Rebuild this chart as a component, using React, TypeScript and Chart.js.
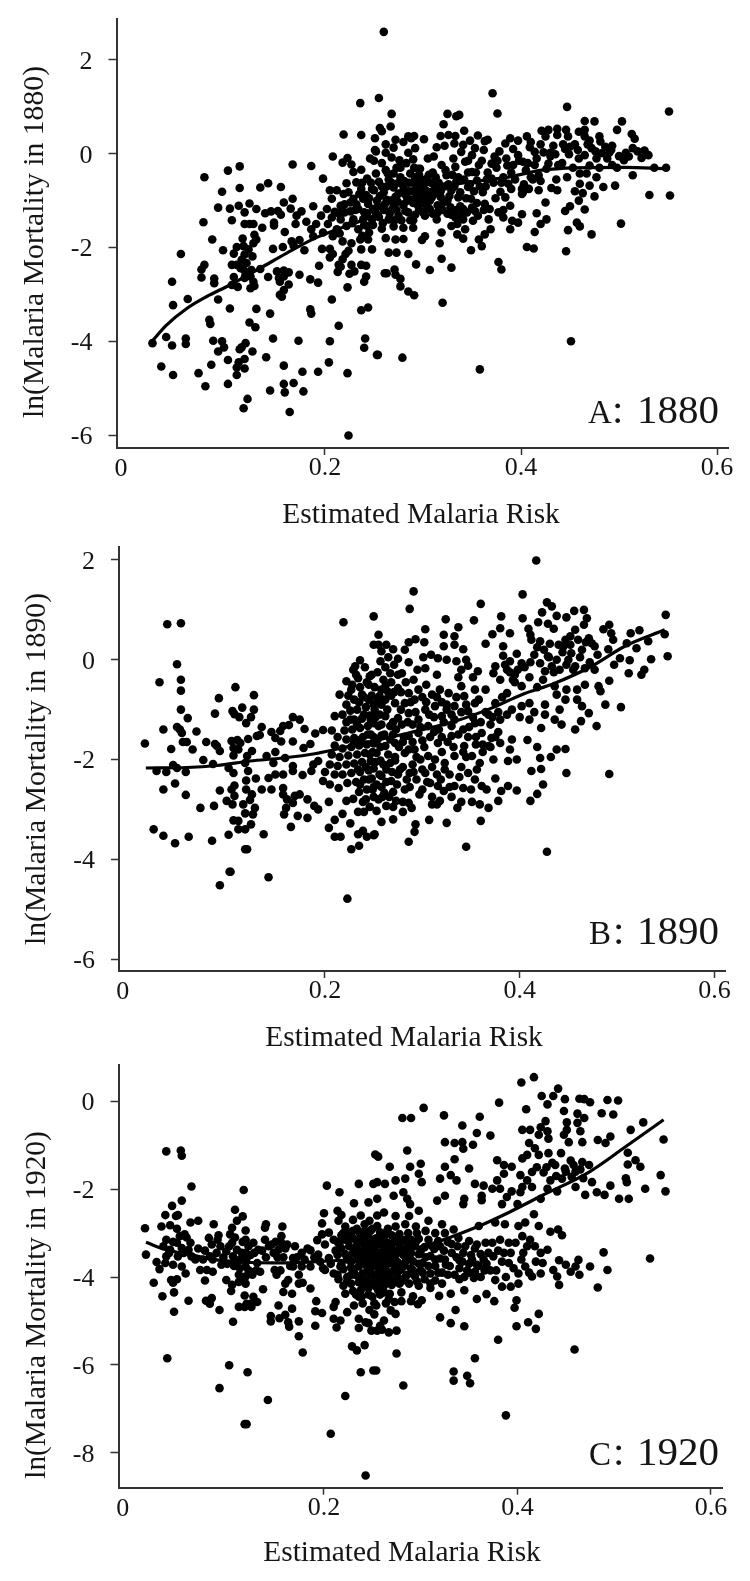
import React, { useEffect, useRef } from "react";
import { Chart, registerables } from "chart.js";

Chart.register(...registerables);

type P = [number, number];

const FONT = '"Liberation Serif", "Times New Roman", serif';
const INK = "#151515";
const xTicks = [0, 0.2, 0.4, 0.6];
const yTicks1880 = [2, 0, -2, -4, -6];
const yTicks1890 = [2, 0, -2, -4, -6];
const yTicks1920 = [0, -2, -4, -6, -8];
const xAxisTitle = "Estimated Malaria Risk";

const curve1880: P[] = [[.024,-3.99],[.038,-3.66],[.059,-3.3],[.079,-3.05],[.103,-2.8],[.134,-2.44],[.161,-2.12],[.191,-1.79],[.222,-1.54],[.251,-1.32],[.28,-1.02],[.316,-.71],[.35,-.6],[.387,-.5],[.421,-.35],[.455,-.3],[.506,-.29],[.548,-.32]];
const curve1890: P[] = [[.016,-2.17],[.058,-2.16],[.089,-2.12],[.123,-2.03],[.157,-1.97],[.191,-1.88],[.226,-1.73],[.286,-1.47],[.334,-1.23],[.371,-.97],[.402,-.7],[.436,-.47],[.474,-.13],[.508,.27],[.549,.6]];
const curve1920: P[] = [[.016,-3.21],[.037,-3.38],[.062,-3.49],[.089,-3.61],[.124,-3.67],[.158,-3.68],[.193,-3.65],[.25,-3.55],[.31,-3.25],[.356,-2.88],[.391,-2.53],[.425,-2.15],[.474,-1.61],[.512,-1.03],[.551,-.42]];

const points1880: P[] = [
[.024,-4.04],[.038,-3.91],[.044,-4.09],[.058,-3.94],[.058,-4.06],[.033,-4.54],[.045,-4.72],[.071,-4.68],[.078,-4.96],[.084,-4.5],[.101,-4.91],[.101,-4.4],[.086,-3.99],[.095,-4],[.097,-4.13],[.091,-4.22],[.113,-4.17],[.119,-4.04],[.115,-4.13],[.126,-4.22],[.118,-4.38],[.112,-4.45],[.11,-4.56],[.118,-4.58],[.11,-4.72],[.121,-5.23],[.117,-5.43],[.14,-4.34],[.144,-5.05],[.158,-4.52],[.158,-4.91],[.159,-5.09],[.168,-4.89],[.177,-4.65],[.178,-5.07],[.164,-5.51],[.193,-4.65],[.204,-4.45],[.223,-4.68],[.224,-6.01],[.173,-3.99],[.147,-3.94],[.205,-4],[.214,-3.67],[.241,-3.94],[.24,-4.14],[.253,-4.29],
[.053,-2.14],[.044,-2.73],[.045,-3.23],[.06,-3.1],[.077,-.5],[.101,-.36],[.113,-.27],[.113,-.73],[.095,-.81],[.091,-1.15],[.103,-1.17],[.112,-1.11],[.105,-1.42],[.076,-1.46],[.085,-1.83],[.096,-2.06],[.077,-2.37],[.074,-2.47],[.074,-2.64],[.087,-2.66],[.087,-2.76],[.091,-3.11],[.103,-3.3],[.082,-3.54],[.083,-3.63],[.123,-3.6],[.129,-3.7],[.13,-3.31],[.144,-3.41],[.134,-.72],[.142,-.63],[.155,-.71],[.167,-.23],[.186,-.26],[.198,-.53],[.167,-.96],[.158,-1.04],[.123,-1.06],[.13,-1.18],[.118,-1.25],[.139,-1.27],[.145,-1.23],[.152,-1.22],[.155,-1.3],[.148,-1.47],[.148,-1.53],[.136,-1.58],[.127,-1.5],[.123,-1.5],[.118,-1.5],[.159,-1.67],[.165,-1.17],[.176,-1.23],[.171,-1.32],[.188,-1.12],[.196,-1.32],[.17,-1.5],[.181,-1.45],[.191,-1.5],[.186,-1.61],[.188,-1.76],[.174,-1.84],[.166,-1.87],[.168,-1.96],[.157,-1.99],[.147,-2.03],[.179,-2.06],[.197,-2.03],[.194,-2.39],[.174,-2.58],[.185,-2.68],[.193,-2.75],[.185,-3.32],[.186,-3.41],[.207,-3.11],[.223,-2.85],[.237,-3.34],[.244,-3.28],
[.116,-1.81],[.11,-1.99],[.107,-2.13],[.117,-1.97],[.122,-2.04],[.118,-2.15],[.115,-2.26],[.11,-2.37],[.105,-2.37],[.12,-2.33],[.126,-2.19],[.13,-1.83],[.127,-1.91],[.128,-1.73],[.125,-2.48],[.134,-2.46],[.117,-2.47],[.114,-2.44],[.119,-2.58],[.124,-2.62],[.127,-2.73],[.124,-2.87],[.128,-2.82],[.107,-2.63],[.111,-2.84],[.105,-2.8],[.118,-2.65],[.142,-2.63],[.151,-2.51],[.158,-2.49],[.163,-2.53],[.153,-2.65],[.158,-2.62],[.154,-2.73],[.163,-2.79],[.158,-2.91],[.154,-3.01],[.156,-3.05],
[.208,-.06],[.219,.41],[.237,.4],[.236,1.08],[.218,-.19],[.223,-.09],[.227,-.23],[.229,-.39],[.237,-.34],[.222,-.63],[.232,-.61],[.243,-.53],[.246,-.1],[.251,.08],[.248,-.75],[.237,-.75],[.205,-.78],[.212,-.78],[.219,-.86],[.207,-.96],[.229,-.96],[.239,-.96],[.216,-1.11],[.226,-1.04],[.202,-1.18],[.22,-1.25],[.234,-1.18],[.244,-1.07],[.249,-1.18],[.207,-1.36],[.216,-1.4],[.229,-1.4],[.239,-1.4],[.248,-1.4],[.203,-1.5],[.212,-1.61],[.222,-1.54],[.234,-1.61],[.243,-1.54],[.198,-1.68],[.208,-1.76],[.218,-1.87],[.227,-1.91],[.236,-1.83],[.244,-1.83],[.205,-2.03],[.208,-2.14],[.205,-2.21],[.224,-2.07],[.221,-2.14],[.237,-2.04],[.248,-2.04],[.214,-2.37],[.216,-2.41],[.213,-2.52],[.227,-2.37],[.237,-2.37],[.242,-2.39],[.225,-2.56],[.23,-2.51],[.242,-2.62],[.24,-2.73],[.218,-2.25],[.231,-1.2],[.21,-1.24],[.215,-1.7],[.24,-1.25],[.245,-1.68],[.226,-1.23],[.238,-1.75],[.242,-.88],
[.251,.33],[.258,.48],[.256,.55],[.267,.58],[.268,.85],[.255,1.19],[.26,2.6],[.262,.2],[.272,.3],[.252,.05],[.262,.02],[.27,.13],[.28,.25],[.288,.33],[.291,.38],[.25,-.15],[.258,-.2],[.268,-.08],[.276,-.14],[.285,.02],[.292,.12],[.252,-.42],[.262,-.35],[.273,-.3],[.283,-.2],[.29,-.12],[.255,-.6],[.265,-.55],[.277,-.5],[.287,-.42],[.295,-.32],[.25,-.78],[.26,-.82],[.27,-.72],[.28,-.7],[.29,-.62],[.298,-.55],[.253,-1],[.263,-.98],[.272,-.92],[.283,-.9],[.293,-.84],[.302,-.78],[.25,-1.18],[.26,-1.2],[.27,-1.12],[.28,-1.1],[.29,-1.05],[.3,-1],[.255,-1.35],[.265,-1.4],[.275,-1.32],[.285,-1.25],[.296,-1.2],[.258,-1.6],[.27,-1.55],[.28,-1.58],[.29,-1.42],[.262,-1.8],[.272,-1.83],[.28,-1.82],[.263,-2.55],[.272,-2.58],[.265,-2.11],[.273,-2.11],[.285,-2.14],[.293,-2.36],[.307,-2.48],[.319,-2.24],[.329,-2.43],[.32,-3.18],[.261,-2.55],[.271,-2.47],[.277,-2.67],[.277,-2.83],[.285,-2.94],[.291,-3.02],[.254,-4.29],[.279,-4.35],[.358,-4.6],[.451,-4],
[.301,.31],[.285,.37],[.321,.63],[.326,.4],[.333,.38],[.342,.49],[.356,.39],[.363,.27],[.389,.33],[.397,.28],[.406,.37],[.314,.14],[.322,.17],[.341,.19],[.353,.12],[.362,.08],[.384,.22],[.409,.14],[.311,-.06],[.331,-.1],[.339,.04],[.35,-.03],[.373,-.06],[.385,-.1],[.397,-.03],[.319,-.24],[.333,-.28],[.343,-.17],[.357,-.24],[.37,-.21],[.392,-.24],[.402,-.17],[.297,-.32],[.324,-.46],[.35,-.39],[.37,-.53],[.382,-.5],[.387,-.64],[.304,-.53],[.334,-.6],[.355,-.57],[.292,-.5],[.312,-.71],[.329,-.78],[.346,-.71],[.361,-.82],[.379,-.81],[.384,-.93],[.402,-.82],[.299,-.89],[.309,-.93],[.321,-1.04],[.336,-.93],[.349,-.96],[.389,-1.11],[.401,-.86],[.295,-1.11],[.307,-1.18],[.328,-1.14],[.341,-1.18],[.353,-1.22],[.363,-1.07],[.377,-1.25],[.382,-1.36],[.391,-1.43],[.401,-1.29],[.397,-1.47],[.389,-1.61],[.302,-1.32],[.314,-1.4],[.333,-1.36],[.341,-1.4],[.351,-1.43],[.367,-1.4],[.29,-1.58],[.302,-1.76],[.299,-1.84],[.319,-1.68],[.317,-1.91],[.329,-1.54],[.335,-1.72],[.343,-1.61],[.341,-1.81],[.369,-1.61],[.363,-1.72],[.357,-1.83],[.36,-1.97],[.349,-2.06],[.377,-2.31],[.38,-2.47],[.371,1.29],[.376,.86],[.325,.85],[.334,.8],[.337,.83],
[.447,1],[.551,.9],[.465,.7],[.475,.69],[.503,.69],[.498,.51],[.421,.49],[.428,.51],[.425,.37],[.437,.53],[.437,.4],[.446,.51],[.448,.37],[.459,.47],[.465,.51],[.465,.37],[.48,.37],[.481,.26],[.486,.15],[.493,.17],[.513,.42],[.516,.32],[.514,.12],[.51,-.06],[.523,-.09],[.53,-.03],[.505,-.14],[.414,.04],[.423,.03],[.433,.17],[.435,-.01],[.449,-.01],[.459,-.1],[.465,-.03],[.472,.12],[.482,.01],[.414,-.24],[.428,-.21],[.438,-.24],[.447,-.5],[.418,-.46],[.467,-.42],[.477,-.5],[.493,-.24],[.536,-.3],[.548,-.3],[.514,-.46],[.531,-.88],[.552,-.89],[.496,-.68],[.484,-.71],[.47,-.68],[.46,-.64],[.455,-.8],[.463,-.84],[.475,-.91],[.437,-.78],[.431,-.73],[.418,-.78],[.408,-.75],[.401,-.75],[.425,-1.04],[.416,-1.27],[.445,-1.22],[.45,-1.12],[.459,-1],[.465,-1.19],[.426,-1.4],[.42,-1.5],[.414,-1.67],[.448,-1.63],[.457,-1.47],[.46,-1.55],[.472,-1.72],[.502,-1.49],[.446,-2.08],[.406,-1.99],[.413,-2.02],
[.31,-.4],[.318,-.92],[.326,-.65],[.338,-1.12],[.346,-.4],[.305,-.1],[.275,-.85],[.285,-.8],[.295,-.72],[.305,-.87],[.315,-1.1],[.325,-1.28],[.335,-1.5],[.345,-1.25],[.355,-1.05],[.365,-.55],[.375,-.3],[.39,-.4],[.405,-.35],[.41,-.5],[.43,-.05],[.445,.1],[.455,.2],[.47,.28],[.477,-.1],[.49,.02],[.5,-.05],[.519,.05],[.526,.07],[.41,.25],[.42,.2],[.392,.1],[.378,.05],[.366,.3],[.348,.28],[.332,.22],[.318,.38]
];
const dense1880: P[] = [
[.214,-1.27],[.22,-1.08],[.224,-.82],[.228,-1.48],[.232,-1.08],[.235,-.86],[.238,-.62],[.24,-1.52],[.243,-1.27],[.245,-.95],[.247,-.62],[.249,-1.52],[.252,-1.27],[.254,-1.12],[.256,-.9],[.258,-.7],[.259,-1.48],[.261,-1.08],[.263,-.7],[.264,-.42],[.266,-1.28],[.267,-1],[.268,-.62],[.27,-.42],[.271,-1.42],[.273,-1.2],[.274,-1.02],[.275,-.62],[.277,-.3],[.278,-1.42],[.279,-.82],[.281,-.58],[.282,-1.22],[.284,-1],[.286,-.62],[.287,-1.42],[.288,-.98],[.289,-.8],[.291,-.3],[.292,-1.3],[.293,-.65],[.294,-.95],[.296,-.45],[.297,-1.05],[.298,-.75],[.3,-1.25],[.301,-.65],[.303,-1.1],[.304,-.8],[.306,-.45],[.307,-1],[.308,-.62],[.31,-1.28],[.312,-.85],[.313,-.5],[.315,-1.25],[.316,-.62],[.318,-.8],[.32,-1.2],[.322,-.7],[.323,-.35],[.325,-1],[.327,-.9],[.329,-1.3],[.33,-.45],[.332,-.7],[.334,-1.2],[.336,-.5],[.338,-.82],[.34,-1.3],[.342,-.55],[.344,-.95],[.346,-.15],[.348,-.65],[.35,-1.15],[.352,-.8],[.354,-.4],[.356,-1.32],[.358,-.7],[.36,-.15],[.362,-1.2],[.364,-.7],[.366,-.4],[.368,-1.18],[.372,-.62],[.374,-.95],[.376,-.15],[.38,-.62],[.382,-1.2],[.386,-.25],[.39,-.75],[.394,-.55],[.398,-.15],[.403,-.65],[.407,-.2],[.412,-.55],[.416,-.1],[.42,-.58],[.426,-.32],[.43,.02],[.436,-.55],[.442,-.2],[.443,.2],[.45,.15],[.453,-.3],[.458,.08],[.46,-.42],[.468,.2],[.47,-.25],[.476,.05],[.48,-.3],[.488,-.1],[.492,.08],[.498,-.3],[.507,.02]
];

const points1890: P[] = [
[.015,-1.68],[.03,-.45],[.038,.71],[.052,.73],[.048,-.09],[.052,-.4],[.052,-.62],[.052,-1],[.059,-1.17],[.034,-1.4],[.048,-1.35],[.051,-1.4],[.053,-1.47],[.068,-1.44],[.042,-1.79],[.054,-1.65],[.058,-1.65],[.064,-1.8],[.078,-1.65],[.075,-2.01],[.087,-1.69],[.089,-1.73],[.092,-1.83],[.085,-2.09],[.044,-2.11],[.027,-2.23],[.037,-2.25],[.048,-2.17],[.057,-2.25],[.034,-2.6],[.046,-2.48],[.057,-2.71],[.072,-2.97],[.086,-2.93],[.092,-2.62],[.024,-3.4],[.034,-3.53],[.046,-3.68],[.06,-3.55],[.084,-3.63],[.101,-3.51],[.092,-4.52],[.102,-4.25],[.103,-4.25],[.142,-4.36],[.223,-4.79],[.118,-3.8],[.12,-3.8],[.137,-3.5],
[.108,-.55],[.127,-.71],[.091,-.77],[.087,-1.08],[.105,-1.03],[.107,-1.09],[.112,-1.15],[.115,-.96],[.127,-1],[.124,-1.15],[.119,-1.27],[.135,-1.35],[.133,-1.51],[.13,-1.53],[.145,-1.45],[.157,-1.33],[.154,-1.43],[.149,-1.57],[.155,-1.64],[.167,-1.15],[.174,-1.2],[.163,-1.31],[.179,-1.39],[.19,-1.48],[.198,-1.41],[.207,-1.42],[.167,-1.64],[.121,-1.59],[.104,-1.63],[.11,-1.61],[.113,-1.67],[.178,-1.77],[.185,-1.69],[.106,-1.77],[.111,-1.8],[.106,-1.92],[.12,-1.93],[.125,-1.83],[.149,-1.85],[.159,-1.97],[.14,-1.93],[.147,-2.07],[.118,-2.07],[.121,-2.23],[.106,-2.27],[.101,-2.17],[.167,-2.13],[.167,-2.23],[.157,-2.3],[.149,-2.3],[.177,-2.31],[.186,-2.23],[.193,-2.03],[.188,-2.1],[.142,-2.37],[.129,-2.38],[.119,-2.42],[.107,-2.52],[.104,-2.6],[.119,-2.6],[.135,-2.6],[.145,-2.6],[.107,-2.73],[.099,-2.83],[.105,-2.9],[.116,-2.9],[.125,-2.7],[.123,-2.81],[.128,-2.97],[.118,-3.08],[.126,-3.1],[.106,-3.22],[.111,-3.23],[.124,-3.3],[.111,-3.4],[.118,-3.4],[.157,-2.57],[.157,-2.7],[.161,-2.8],[.167,-2.87],[.174,-2.7],[.169,-2.73],[.182,-2.8],[.189,-2.93],[.193,-3],[.16,-2.97],[.158,-3.1],[.172,-3.13],[.182,-3.17],[.165,-3.35],[.204,-2.85],[.198,-2.43],[.205,-2.5],[.214,-2.57],[.222,-2.83],[.229,-2.79],[.234,-3.05],[.218,-3.09],[.21,-3.21],[.226,-3.28],[.204,-3.37],[.21,-3.55],[.216,-3.55],[.227,-3.8],[.235,-3.73],[.234,-3.5],[.239,-3.43],[.243,-3.55],[.25,-3.52],
[.219,.75],[.25,.87],[.25,.3],[.236,-.01],[.231,-.13],[.229,-.2],[.222,-.43],[.234,-.37],[.246,-.33],[.215,-.7],[.222,-.9],[.218,-1.1],[.21,-1.13],[.227,-.6],[.236,-.55],[.245,-.5],[.23,-.8],[.24,-.75],[.248,-.72],[.226,-1.02],[.233,-1],[.242,-.95],[.25,-.9],[.222,-1.25],[.23,-1.2],[.238,-1.18],[.246,-1.12],[.22,-1.42],[.228,-1.4],[.236,-1.37],[.244,-1.33],[.25,-1.27],[.213,-1.55],[.222,-1.6],[.23,-1.57],[.239,-1.55],[.247,-1.5],[.21,-1.72],[.218,-1.78],[.227,-1.75],[.235,-1.72],[.243,-1.7],[.25,-1.68],[.207,-1.9],[.215,-1.95],[.224,-1.92],[.233,-1.9],[.241,-1.87],[.249,-1.85],[.205,-2.1],[.213,-2.13],[.222,-2.1],[.23,-2.08],[.238,-2.05],[.247,-2.03],[.2,-2.25],[.21,-2.3],[.218,-2.3],[.227,-2.27],[.236,-2.25],[.245,-2.22],[.25,-2.18],[.223,-2.47],[.232,-2.45],[.24,-2.4],[.248,-2.38],[.235,-2.65],[.243,-2.6],[.25,-2.55],[.242,-2.8],[.25,-2.75],[.246,-2.95],[.24,-3.05],
[.291,1.37],[.287,1.02],[.36,1.12],[.403,1.31],[.417,1.99],[.428,1.15],[.433,1.07],[.423,.95],[.438,.88],[.448,.85],[.456,.98],[.466,1],[.469,.83],[.466,.7],[.419,.75],[.429,.72],[.435,.62],[.403,.83],[.381,.87],[.353,.79],[.324,.81],[.337,.65],[.303,.61],[.38,.63],[.372,.51],[.39,.53],[.409,.62],[.411,.5],[.412,.4],[.421,.37],[.431,.32],[.365,.32],[.322,.5],[.333,.47],[.293,.41],[.302,.35],[.286,.35],[.322,.27],[.333,.3],[.342,.21],[.383,.27],[.397,.12],[.309,.1],[.301,.05],[.316,.03],[.325,0],[.335,-.03],[.345,0],[.282,.2],[.27,.21],[.263,.3],[.255,.5],[.255,.3],[.258,.17],[.286,-.05],[.271,-.1],[.303,-.17],[.347,-.12],[.357,-.23],[.337,-.35],[.383,.08],[.39,-.03],[.402,-.07],[.411,-.05],[.375,-.13],[.387,-.2],[.373,-.27],[.38,-.4],[.395,-.3],[.402,-.53],[.421,-.07],[.429,.07],[.438,0],[.447,.4],[.452,.47],[.457,.6],[.471,.43],[.474,.33],[.445,.27],[.453,.13],[.464,.2],[.477,.27],[.486,.61],[.492,.7],[.494,.53],[.496,.4],[.491,.21],[.514,.53],[.523,.59],[.51,.33],[.52,.23],[.532,.37],[.549,.51],[.55,.9],[.552,.07],[.535,.01],[.528,-.2],[.525,-.3],[.512,-.27],[.513,-.01],[.503,.03],[.497,-.1],[.492,-.42],[.467,-.17],[.477,-.2],[.457,-.13],[.45,0],[.441,-.2],[.433,-.13],[.426,-.23],[.424,-.4],[.436,-.53],[.448,-.6],[.459,-.6],[.467,-.5],[.481,-.53],[.483,-.63],[.488,-.9],[.504,-.95],[.471,-1.07],[.464,-.93],[.459,-.8],[.447,-.8],[.438,-.7],[.441,-1],[.426,-.9],[.426,-1.1],[.436,-1.2],[.443,-1.3],[.463,-1.23],[.479,-1.33],[.457,-1.4],[.422,-1.37],[.41,-.87],[.402,-.93],[.387,-.67],[.375,-.87],[.365,-.6],[.354,-.6],[.34,-.53],[.327,-.67],[.318,-.6],[.304,-.5],[.291,-.4],[.279,-.27],[.267,-.27],[.257,-.03],
[.408,-1.61],[.418,-1.75],[.421,-1.97],[.432,-1.95],[.438,-1.8],[.447,-1.79],[.448,-2.27],[.492,-2.29],[.412,-2.23],[.422,-2.19],[.424,-2.5],[.418,-2.69],[.411,-2.83],[.428,-3.85],[.397,-2],[.388,-2.03],[.39,-1.8],[.392,-1.6],[.38,-1.67],[.371,-1.57],[.368,-1.73],[.373,-2],[.375,-2.38],[.361,-2.53],[.366,-2.6],[.381,-2.63],[.388,-2.53],[.397,-2.62],[.378,-2.83],[.368,-2.97],[.359,-2.9],[.351,-2.85],[.36,-3.23],[.336,-2.97],[.325,-3.27],[.307,-3.21],[.293,-3.3],[.292,-3.45],[.286,-3.65],[.345,-3.75],[.333,-2.53],[.342,-2.57],[.354,-2.4],[.347,-2.27],[.359,-2.07],[.356,-2.2],[.351,-1.93],[.343,-1.73],[.333,-1.93],[.323,-2.07],[.323,-2.2],[.316,-2.53],[.322,-2.63],[.318,-2.83],[.315,-2.9],[.308,-2.47],[.294,-2.4],[.303,-2.27],[.287,-2.27],[.282,-2.6],[.286,-2.87],[.289,-2.97],[.273,-2.83],[.263,-2.93],[.253,-3.03],[.251,-3.5],[.261,-2.67],[.268,-2.43],[.275,-2.3],[.258,-2.33],[.267,-2.07],[.282,-1.87],[.292,-1.8],[.306,-1.93],[.316,-1.67],[.33,-1.53],[.342,-1.4],[.354,-1.27],[.361,-1.47],[.306,-1.33],[.296,-1.47],[.286,-1.53],[.272,-1.67],[.262,-1.73],[.253,-1.87],[.32,-1.13],[.333,-1.2],[.313,-.93],[.303,-1],[.292,-.8],[.282,-.87],[.272,-.87],[.262,-1.13],[.251,-1],[.275,-1.17],[.267,-1.33],[.255,-1.33],[.286,-1.07],[.296,-1.2],[.343,-.73],[.354,-.87],[.333,-.93],[.325,-1],[.368,-1.1],[.38,-1.2],[.387,-1.1],[.392,-1],[.347,-1.03],[.33,-1.33],[.262,-.53],[.275,-.57],[.286,-.67],[.256,-.73],
[.258,-.9],[.268,-.72],[.278,-1],[.3,-.75],[.31,-.7],[.32,-.85],[.258,-1.52],[.27,-1.5],[.28,-1.65],[.29,-1.65],[.3,-1.62],[.312,-1.45],[.32,-1.55],[.257,-2.02],[.263,-2.2],[.272,-2.02],[.28,-2.15],[.29,-2.1],[.298,-2],[.31,-2.15],[.315,-2.3],[.328,-2.3],[.34,-2.15],[.345,-1.95],[.355,-1.7],[.362,-1.85],[.347,-1.55],[.37,-1.3],[.378,-1.45],[.4,-1.15],[.41,-1.2],[.415,-1.05],[.418,-.55],[.41,-.35],[.395,-.45],[.352,-.35],[.34,-.2],[.315,-.3],[.295,-.2],[.275,.02],[.265,.05],[.254,-.25],[.262,-.15],[.258,-2.55],[.27,-2.65],[.3,-2.6],[.31,-2.75],[.33,-2.75],[.34,-2.85],[.28,-3.05],[.27,-3.2],[.258,-3.25]
];
const dense1890: P[] = [
[.224,-.72],[.226,-1.2],[.228,-.5],[.23,-1.65],[.232,-.3],[.233,-1.3],[.234,-2.2],[.235,-.85],[.236,-2.5],[.237,-1.6],[.238,-.7],[.239,-2.85],[.24,-1.1],[.241,-.15],[.242,-2.15],[.243,-.45],[.244,-1.5],[.245,-2.4],[.245,-.8],[.246,-1.9],[.247,-1.2],[.248,-.3],[.249,-2.6],[.25,-1.55],[.251,-.55],[.252,-2.05],[.252,-1.15],[.253,-2.5],[.254,-.8],[.254,-1.6],[.255,-2.8],[.256,-1.1],[.256,-2.3],[.257,-1.75],[.258,-.6],[.258,-1.3],[.259,-2.75],[.26,-2.1],[.26,-.4],[.261,-1.5],[.262,-.8],[.263,-2.45],[.264,-1],[.265,-1.9],[.265,-.65],[.266,-2.75],[.267,-1.6],[.268,-.45],[.269,-2.25],[.27,-1.25],[.27,-2.95],[.271,-.65],[.272,-1.95],[.273,-1.4],[.274,-2.5],[.275,-.3],[.276,-1.75],[.277,-2.2],[.278,-.65],[.279,-1.3],[.28,-2.85],[.281,-1.55],[.283,-.45],[.284,-2.4],[.285,-1.25],[.286,-1.8],[.287,-2.55],[.288,-.85],[.29,-1.3],[.291,-2.25],[.293,-1.05],[.294,-1.95],[.296,-.6],[.297,-2.7],[.298,-1.35],[.3,-2.2],[.302,-1.75],[.304,-.85],[.305,-2.45],[.307,-1.1],[.308,-1.55],[.31,-2.9],[.312,-1.15],[.313,-2],[.315,-.75],[.317,-1.4],[.319,-2.4],[.32,-1.85],[.322,-1.25],[.325,-.9],[.326,-1.65],[.328,-2.55],[.33,-1.1],[.332,-1.75],[.335,-.75],[.337,-1.5],[.338,-2.35],[.34,-1.05],[.342,-1.85],[.345,-.9],[.348,-1.35],[.35,-2.6],[.352,-1.15],[.355,-1.55],[.358,-.8],[.36,-1.25],[.362,-1.7],[.365,-1.05],[.37,-1.75],[.372,-1.15],[.375,-1.55],[.378,-1.05],[.382,-.75],[.385,-.1],[.39,-.25],[.393,-.4],[.398,-.2],[.405,-.15],[.415,.1],[.418,.25],[.425,.2],[.43,.05],[.435,-.25],[.44,.3],[.444,.15],[.448,-.1],[.452,.3],[.455,-.2],[.46,.4],[.462,.05],[.468,.35],[.472,-.05],[.48,.1]
];

const points1920: P[] = [
[.037,-1.14],[.052,-1.12],[.053,-1.24],[.063,-1.94],[.117,-2.02],[.203,-1.92],[.216,-2.07],[.236,-1.88],[.251,-1.88],[.253,-1.21],[.231,-2.32],[.246,-2.3],[.053,-2.26],[.043,-2.38],[.036,-2.59],[.049,-2.59],[.047,-2.61],[.032,-2.85],[.041,-2.82],[.015,-2.89],[.062,-2.76],[.07,-2.72],[.086,-2.8],[.048,-2.9],[.056,-3.03],[.108,-2.47],[.116,-2.62],[.11,-2.72],[.105,-2.88],[.119,-2.94],[.14,-2.8],[.139,-2.88],[.157,-2.85],[.2,-2.55],[.198,-2.78],[.214,-2.49],[.218,-2.59],
[.016,-3.49],[.027,-3.66],[.03,-3.82],[.037,-3.15],[.034,-3.3],[.041,-3.38],[.037,-3.53],[.036,-3.68],[.044,-3.72],[.051,-3.07],[.048,-3.22],[.053,-3.34],[.049,-3.53],[.053,-3.76],[.057,-3.92],[.042,-4.07],[.048,-4.05],[.044,-4.13],[.024,-4.13],[.033,-4.44],[.045,-4.35],[.045,-4.79],[.06,-4.54],[.038,-5.85],[.062,-3.22],[.06,-3.38],[.063,-3.53],[.072,-3.84],[.077,-4.08],[.077,-3.4],[.081,-3.11],[.084,-3.26],[.082,-3.53],[.079,-3.84],[.085,-3.88],[.091,-3.05],[.093,-3.3],[.094,-3.72],[.089,-3.45],[.099,-3.42],[.103,-3.03],[.105,-3.22],[.106,-3.53],[.11,-3.38],[.113,-3.61],[.119,-3.15],[.122,-3.3],[.119,-3.45],[.113,-3.8],[.119,-3.76],[.124,-3.88],[.119,-3.99],[.112,-4.11],[.119,-4.15],[.099,-4.07],[.104,-4.32],[.105,-4.18],[.127,-3.22],[.132,-3.38],[.131,-3.68],[.134,-3.88],[.139,-3.15],[.146,-3.26],[.148,-3.45],[.156,-3.07],[.156,-3.22],[.153,-3.38],[.162,-3.26],[.17,-3.3],[.177,-3.45],[.168,-3.57],[.149,-3.84],[.151,-3.95],[.163,-4.07],[.16,-4.15],[.168,-3.76],[.177,-3.76],[.174,-3.95],[.174,-4.15],[.178,-4.13],[.186,-3.39],[.193,-3.16],[.194,-3.49],[.186,-3.76],[.199,-3.8],[.198,-3.03],[.205,-2.99],[.201,-3.26],[.21,-3.15],[.205,-3.57],[.201,-3.84],[.21,-3.92],[.217,-3.76],
[.078,-4.54],[.084,-4.48],[.082,-4.61],[.092,-4.75],[.106,-5.02],[.112,-4.68],[.118,-4.42],[.12,-4.61],[.118,-4.68],[.124,-4.61],[.127,-4.45],[.131,-4.57],[.125,-4.68],[.137,-4.28],[.153,-4.65],[.158,-4.34],[.167,-4.38],[.167,-4.72],[.16,-4.86],[.154,-4.94],[.145,-4.89],[.145,-5.01],[.163,-5.03],[.164,-5.13],[.174,-5.01],[.174,-5.35],[.178,-5.72],[.186,-4.26],[.192,-4.55],[.191,-4.78],[.198,-4.82],[.191,-5.11],[.21,-4.68],[.212,-4.57],[.21,-4.95],[.217,-4.99],[.213,-5.15],[.224,-4.8],[.231,-4.65],[.236,-4.95],[.243,-5.03],[.236,-5.16],[.249,-5.22],[.247,-4.75],[.229,-5.58],[.234,-5.67],[.242,-5.55],[.238,-6.17],[.251,-6.13],[.222,-6.71],[.207,-7.57],[.243,-8.52],[.102,-6.01],[.121,-6.17],[.092,-6.53],[.142,-6.8],[.118,-7.35],[.12,-7.35],
[.404,.43],[.417,.55],[.442,.29],[.381,-.03],[.409,-.18],[.303,-.15],[.281,-.38],[.29,-.38],[.324,-.32],[.361,-.35],[.343,-.55],[.358,-.72],[.372,-.78],[.425,.12],[.437,.12],[.431,-.07],[.449,.05],[.448,-.22],[.464,.06],[.469,.05],[.475,-.02],[.493,.03],[.504,.02],[.487,-.27],[.499,-.3],[.462,-.28],[.469,-.38],[.462,-.49],[.451,-.48],[.429,-.45],[.424,-.59],[.405,-.65],[.413,-.65],[.431,-.68],[.422,-.76],[.451,-.65],[.448,-.76],[.465,-.68],[.467,-.93],[.453,-.93],[.432,-.85],[.412,-.95],[.418,-1.07],[.483,-.88],[.491,-.95],[.496,-.8],[.517,-.65],[.53,-.48],[.551,-.87],[.325,-.93],[.335,-.95],[.343,-.93],[.354,-.99],[.344,-1.08],[.335,-1.32],[.286,-1.12],[.256,-1.26],[.268,-1.49],[.289,-1.49],[.3,-1.42],[.298,-1.65],[.301,-1.84],[.325,-1.49],[.32,-1.76],[.331,-1.68],[.337,-1.8],[.35,-1.53],[.356,-1.88],[.365,-1.92],[.374,-1.99],[.363,-2.15],[.363,-2.25],[.345,-2.22],[.344,-2.34],[.325,-2.15],[.317,-2.26],[.284,-1.76],[.274,-1.8],[.263,-1.88],[.255,-1.84],[.272,-2.15],[.282,-2.07],[.286,-2.22],[.289,-2.34],[.255,-2.22],[.379,-1.34],[.386,-1.45],[.394,-1.49],[.386,-1.65],[.379,-1.8],[.382,-1.99],[.394,-2.05],[.403,-2.07],[.389,-2.18],[.384,-2.34],[.4,-2.34],[.403,-1.68],[.415,-1.61],[.41,-1.8],[.415,-1.95],[.427,-1.62],[.434,-1.8],[.424,-2.22],[.431,-1.99],[.441,-2.05],[.417,-2.57],[.405,-1.3],[.41,-1.22],[.422,-1.22],[.432,-1.18],[.445,-1.18],[.439,-1.45],[.449,-1.53],[.458,-1.45],[.467,-1.38],[.474,-1.45],[.446,-1.76],[.456,-1.72],[.46,-1.95],[.47,-2.13],[.477,-1.84],[.482,-2.07],[.49,-2.13],[.496,-1.92],[.505,-2.22],[.515,-2.22],[.512,-1.75],[.513,-1.84],[.514,-1.44],[.522,-1.34],[.527,-1.49],[.514,-1.17],[.532,-1.99],[.548,-1.68],[.553,-2.05],
[.537,-3.58],[.489,-3.44],[.493,-3.84],[.483,-4.24],[.475,-3.76],[.463,-3.61],[.46,-3.76],[.464,-3.95],[.455,-3.88],[.45,-3.72],[.443,-3.62],[.437,-3.84],[.441,-3.99],[.443,-4.18],[.434,-2.97],[.442,-2.92],[.446,-3.05],[.422,-2.84],[.408,-2.76],[.401,-2.84],[.431,-3.38],[.424,-3.45],[.419,-3.65],[.426,-3.68],[.424,-3.92],[.415,-3.99],[.413,-3.15],[.405,-3.07],[.398,-3.22],[.406,-3.45],[.408,-3.76],[.401,-3.92],[.401,-4.15],[.393,-4.22],[.384,-4.22],[.377,-4.07],[.391,-3.68],[.384,-3.65],[.375,-3.53],[.374,-3.22],[.382,-3.15],[.391,-3.22],[.387,-2.8],[.377,-2.76],[.36,-2.84],[.367,-3.22],[.358,-3.26],[.35,-3.18],[.339,-3.11],[.334,-2.92],[.322,-2.8],[.308,-2.72],[.298,-2.49],[.288,-2.61],[.274,-2.61],[.262,-2.53],[.255,-2.84],
[.399,-4.53],[.397,-4.7],[.422,-4.84],[.411,-5.03],[.419,-5.18],[.399,-5.12],[.459,-5.65],[.38,-5.43],[.356,-5.85],[.334,-6.15],[.334,-6.36],[.348,-6.25],[.351,-6.42],[.282,-6.47],[.388,-7.15],[.275,-5.74],[.254,-6.13],[.345,-5.12],[.331,-5.05],[.32,-4.92],[.336,-4.75],[.376,-4.55],[.368,-4.39],[.358,-4.5],[.331,-4.38],[.345,-4.3],[.319,-4.43],[.301,-4.53],[.297,-4.62],[.292,-4.44],[.273,-4.57],[.269,-4.76],[.274,-4.84],[.262,-4.99],[.258,-5.11],[.267,-5.26],[.275,-5.22],[.255,-5.22],
[.215,-2.72],[.222,-2.85],[.23,-2.7],[.238,-2.6],[.247,-2.72],[.255,-2.6],[.218,-3.05],[.226,-2.98],[.234,-2.9],[.242,-2.95],[.25,-2.9],[.258,-2.98],[.266,-2.9],[.274,-2.85],[.284,-2.8],[.295,-2.85],[.214,-3.2],[.222,-3.15],[.23,-3.12],[.238,-3.1],[.246,-3.1],[.254,-3.12],[.262,-3.08],[.27,-3.05],[.278,-3.02],[.287,-3],[.296,-3],[.305,-2.95],[.315,-3],[.325,-3],[.218,-3.35],[.226,-3.3],[.234,-3.28],[.242,-3.26],[.25,-3.28],[.258,-3.26],[.266,-3.22],[.274,-3.2],[.282,-3.16],[.29,-3.15],[.298,-3.13],[.308,-3.15],[.318,-3.18],[.328,-3.2],[.338,-3.3],[.214,-3.5],[.222,-3.48],[.23,-3.45],[.238,-3.42],[.246,-3.42],[.254,-3.42],[.262,-3.38],[.27,-3.36],[.278,-3.34],[.286,-3.3],[.294,-3.3],[.304,-3.32],[.314,-3.36],[.324,-3.4],[.332,-3.45],[.344,-3.45],[.352,-3.5],[.362,-3.48],[.226,-3.6],[.234,-3.6],[.242,-3.58],[.25,-3.58],[.258,-3.56],[.266,-3.55],[.274,-3.5],[.282,-3.5],[.29,-3.46],[.298,-3.48],[.31,-3.52],[.32,-3.58],[.34,-3.62],[.35,-3.7],[.358,-3.72],[.368,-3.7],[.22,-3.82],[.228,-3.78],[.236,-3.76],[.244,-3.74],[.252,-3.74],[.26,-3.72],[.268,-3.68],[.276,-3.66],[.284,-3.66],[.292,-3.64],[.302,-3.68],[.315,-3.75],[.326,-3.72],[.34,-3.8],[.348,-3.85],[.356,-3.88],[.366,-3.85],[.215,-4.05],[.224,-4],[.232,-3.95],[.24,-3.92],[.248,-3.9],[.256,-3.9],[.264,-3.85],[.272,-3.85],[.28,-3.82],[.29,-3.8],[.3,-3.85],[.31,-3.92],[.322,-3.9],[.345,-4],[.355,-4.02],[.22,-4.2],[.228,-4.15],[.236,-4.12],[.244,-4.1],[.252,-4.08],[.26,-4.05],[.268,-4.02],[.276,-4],[.284,-4],[.294,-3.98],[.304,-4.05],[.315,-4.08],[.222,-4.38],[.23,-4.32],[.238,-4.3],[.246,-4.25],[.254,-4.22],[.262,-4.2],[.27,-4.18],[.278,-4.15],[.288,-4.15],[.298,-4.2],[.31,-4.25],[.236,-4.45],[.25,-4.45],[.258,-4.4],[.268,-4.38],[.28,-4.35],[.24,-4.6],[.254,-4.65],[.264,-4.6],[.28,-4.55],[.29,-4.55],[.252,-4.85],[.246,-5.05],[.26,-5.2],[.24,-3.1],[.25,-3.15],[.244,-3.5],[.256,-3.65],[.266,-3.4],[.248,-3.95],[.258,-3.85],[.272,-3.6],[.26,-3.5],[.236,-3.5],[.228,-3.95],[.24,-4.2],[.265,-3.95],[.25,-3.35],[.258,-3.15]
];
const dense1920: P[] = [
[.04,-3.45],[.044,-3.2],[.055,-3.45],[.058,-3.1],[.067,-3.6],[.07,-3.35],[.075,-3.6],[.085,-3.6],[.09,-3.15],[.096,-3.55],[.1,-3.7],[.102,-3.3],[.107,-3.75],[.108,-3.1],[.11,-3.65],[.112,-3.95],[.115,-3.45],[.116,-3.2],[.117,-4],[.12,-3.58],[.122,-3.85],[.124,-3.5],[.126,-3.95],[.128,-3.45],[.13,-3.85],[.136,-3.4],[.14,-3.55],[.143,-3.3],[.15,-3.2],[.152,-3.55],[.155,-3.85],[.158,-3.55],[.16,-3.35],[.165,-3.75],[.172,-3.55],[.18,-3.6],[.183,-3.35],[.19,-3.55],[.196,-3.65],[.207,-3.7],[.212,-3.4],[.214,-3.95],[.216,-3.25],[.218,-3.7],[.22,-3],[.224,-3.6],[.224,-4.1],[.226,-3.15],[.228,-3.65],[.23,-2.95],[.231,-3.9],[.232,-3.4],[.233,-4.4],[.235,-3.2],[.236,-4],[.237,-3],[.238,-3.7],[.239,-4.45],[.241,-3.4],[.242,-2.8],[.242,-4.05],[.243,-3.2],[.245,-3.85],[.245,-3.65],[.246,-4.4],[.247,-3.3],[.248,-2.95],[.249,-4.15],[.25,-3.75],[.251,-3.45],[.252,-4.6],[.253,-3.95],[.254,-3.6],[.255,-3.25],[.256,-4.3],[.257,-3.75],[.258,-4.1],[.259,-3.45],[.26,-3.9],[.261,-3.2],[.262,-4.35],[.263,-3.6],[.264,-3],[.265,-4.1],[.266,-3.7],[.267,-4.5],[.268,-3.25],[.269,-3.9],[.27,-3.5],[.272,-4.1],[.273,-3.1],[.274,-3.75],[.276,-3.4],[.278,-3.85],[.279,-3.2],[.28,-4.1],[.282,-3.4],[.283,-3.75],[.285,-3.15],[.286,-3.95],[.288,-3.55],[.29,-3.3],[.292,-3.85],[.295,-3.2],[.296,-4.1],[.298,-3.7],[.3,-3.4],[.302,-3.9],[.305,-3.55],[.308,-3.75],[.31,-4.15],[.312,-3.3],[.315,-3.6],[.318,-3.9],[.32,-3.3],[.322,-4.15],[.325,-3.6],[.328,-3.95],[.33,-3.75],[.332,-3.25],[.335,-3.95],[.337,-3.55],[.34,-4.05],[.343,-3.65],[.346,-3.3],[.35,-3.9],[.353,-3.6],[.356,-3.35],[.36,-3.75],[.362,-4],[.365,-3.6],[.37,-3.45],[.372,-3.85],[.378,-3.85],[.38,-3.4],[.386,-3.45],[.388,-4],[.393,-3.45],[.396,-3.8],[.404,-3.6],[.41,-3.3],[.412,-3.9],[.418,-3.3],[.43,-1.5],[.436,-1.4],[.44,-1.7],[.45,-1.6],[.455,-1.35],[.46,-1.6],[.465,-1.55],[.468,-1.75],[.42,-1.5],[.405,-1.95]
];

const panels = [
  { points: [...points1880, ...dense1880], curve: curve1880, yTicks: yTicks1880, yTitle: "ln(Malaria Mortality in 1880)", tag: "A", tagNum: "1880",
    h: 530, axisX: 116.5, top: 19.3, bottom: 448, right: 728.3, xMin: -0.0127, xMax: 0.6115, yMin: -6.277, yMax: 2.868,
    zeroX: 121, zeroY: 475.5, yTitleX: 35, yTitleC: 242, yTitleS: 29.7, xTitleC: 421, xTitleY: 523, tagX: 588, tagY: 423 },
  { points: [...points1890, ...dense1890], curve: curve1890, yTicks: yTicks1890, yTitle: "ln(Malaria Mortality in 1890)", tag: "B", tagNum: "1890",
    h: 520, axisX: 119, top: 17.3, bottom: 441, right: 725, xMin: -0.0116, xMax: 0.6109, yMin: -6.24, yMax: 2.254,
    zeroX: 122.7, zeroY: 468.5, yTitleX: 37, yTitleC: 239, yTitleS: 29.7, xTitleC: 404, xTitleY: 516, tagX: 589, tagY: 414 },
  { points: [...points1920, ...dense1920], curve: curve1920, yTicks: yTicks1920, yTitle: "ln(Malaria Mortality in 1920)", tag: "C", tagNum: "1920",
    h: 531, axisX: 118.5, top: 15, bottom: 437.7, right: 722.3, xMin: -0.0124, xMax: 0.6117, yMin: -8.797, yMax: 0.827,
    zeroX: 122.7, zeroY: 466.3, yTitleX: 37, yTitleC: 255, yTitleS: 29.3, xTitleC: 402, xTitleY: 511, tagX: 589, tagY: 415 },
];

type Panel = (typeof panels)[number];

function textPlugin(p: Panel) {
  return {
    id: "panelText",
    afterDraw(chart: any) {
      const c = chart.ctx;
      c.save();
      c.fillStyle = INK;
      c.textBaseline = "alphabetic";
      c.textAlign = "center";
      c.font = `26px ${FONT}`;
      c.fillText("0", p.zeroX, p.zeroY);
      c.font = `29.4px ${FONT}`;
      c.fillText(xAxisTitle, p.xTitleC, p.xTitleY);
      c.textAlign = "left";
      c.font = `33px ${FONT}`;
      c.fillText(p.tag, p.tagX, p.tagY);
      c.font = `41px ${FONT}`;
      c.fillText(":", p.tagX + 24, p.tagY);
      c.textAlign = "right";
      c.fillText(p.tagNum, 719, p.tagY);
      c.translate(p.yTitleX, p.yTitleC);
      c.rotate(-Math.PI / 2);
      c.textAlign = "center";
      c.textBaseline = "middle";
      c.font = `${p.yTitleS}px ${FONT}`;
      c.fillText(p.yTitle, 0, 0);
      c.restore();
    },
  };
}

function PanelChart({ p }: { p: Panel }) {
  const ref = useRef<HTMLCanvasElement>(null);
  useEffect(() => {
    const tick = (ctx: any) => (ctx.tick && ctx.tick.value === 0 ? "rgba(0,0,0,0)" : "#333333");
    const noPad = (s: any) => { s.paddingTop = 0; s.paddingBottom = 0; s.paddingLeft = 0; s.paddingRight = 0; };
    const chart = new Chart(ref.current as HTMLCanvasElement, {
      type: "scatter",
      data: {
        datasets: [
          { data: p.curve.map(([x, y]) => ({ x, y })), showLine: true, borderColor: "#000", borderWidth: 3.2, pointRadius: 0, cubicInterpolationMode: "monotone", clip: false },
          { data: p.points.map(([x, y]) => ({ x, y })), backgroundColor: "#000", borderWidth: 0, pointRadius: 4.3, clip: false },
        ],
      } as any,
      plugins: [textPlugin(p)],
      options: {
        animation: false,
        responsive: false,
        devicePixelRatio: 1,
        layout: { padding: { left: 0, top: p.top, right: 750 - p.right, bottom: 0 } },
        plugins: { legend: { display: false }, tooltip: { enabled: false }, title: { display: false } },
        scales: {
          x: {
            type: "linear",
            min: p.xMin,
            max: p.xMax,
            afterBuildTicks: (s: any) => { s.ticks = xTicks.map((value) => ({ value })); },
            afterFit: (s: any) => { s.height = p.h - p.bottom; noPad(s); },
            border: { color: "#333333", width: 2 },
            grid: { drawOnChartArea: false, drawTicks: true, tickLength: 7, tickWidth: 1.5, tickColor: tick, color: "#333333" },
            ticks: { autoSkip: false, maxRotation: 0, padding: 0, color: INK, font: { family: FONT, size: 26, lineHeight: 1 }, callback: (v: any) => (Number(v) === 0 ? "" : Number(v).toFixed(1)) },
          },
          y: {
            type: "linear",
            min: p.yMin,
            max: p.yMax,
            afterBuildTicks: (s: any) => { s.ticks = p.yTicks.map((value) => ({ value })); },
            afterFit: (s: any) => { s.width = p.axisX; noPad(s); },
            border: { color: "#333333", width: 2 },
            grid: { drawOnChartArea: false, drawTicks: true, tickLength: 8, tickWidth: 1.5, tickColor: "#333333", color: "#333333" },
            ticks: { autoSkip: false, padding: 16, color: INK, font: { family: FONT, size: 26, lineHeight: 1 }, labelOffset: 2, callback: (v: any) => String(v) },
          },
        },
      } as any,
    });
    return () => chart.destroy();
  }, [p]);
  return <canvas ref={ref} width={750} height={p.h} style={{ display: "block", width: 750, height: p.h }} />;
}

export default function App() {
  return (
    <div style={{ position: "absolute", left: 0, top: 0, width: 750, height: 1581, background: "#fff" }}>
      {panels.map((p) => (
        <PanelChart key={p.tag} p={p} />
      ))}
    </div>
  );
}
